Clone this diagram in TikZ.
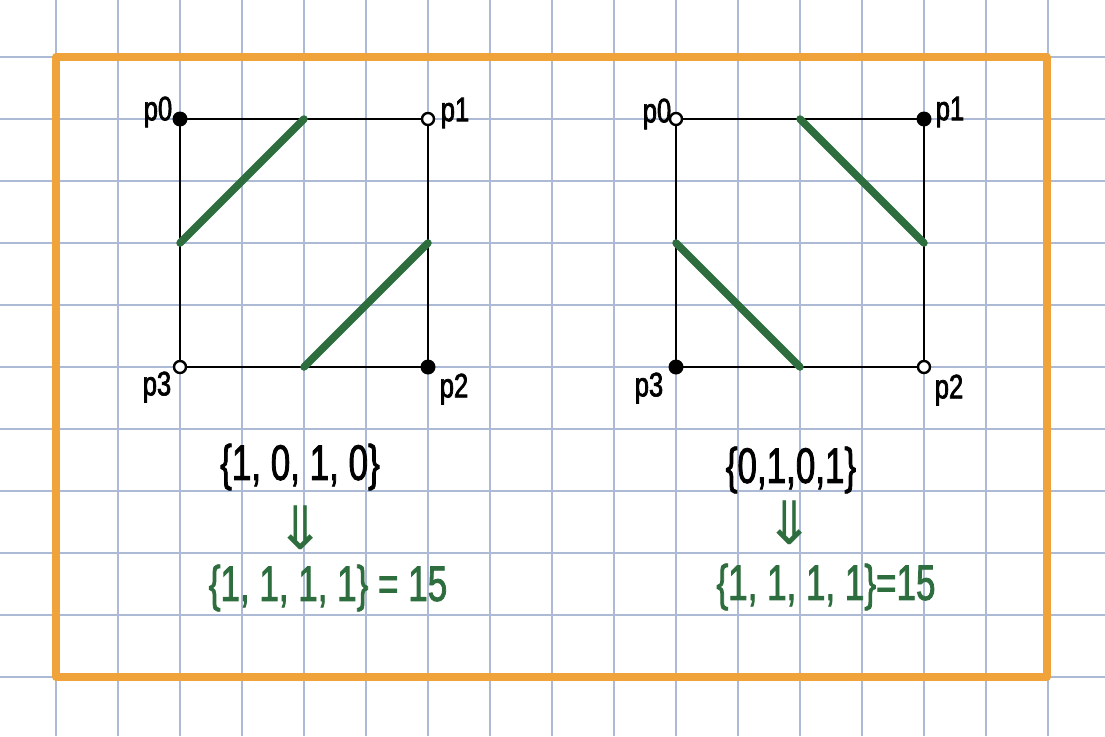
\documentclass[tikz,border=0pt]{standalone}
\usepackage{fontspec}
\usepackage{amsmath}
\usetikzlibrary{calc}
\newfontfamily\hand[FakeStretch=0.7,FakeBold=1.6]{Liberation Sans}
\newfontfamily\handlab[FakeStretch=0.75,FakeBold=2]{Liberation Sans}
\newfontfamily\symf{DejaVu Sans}
\definecolor{gridblu}{RGB}{172,186,214}
\definecolor{frameor}{RGB}{239,163,58}
\definecolor{cutgrn}{RGB}{46,110,62}
\tikzset{
  gridln/.style={line width=1.5pt,gridblu},
  frameln/.style={line width=8pt,frameor,line join=round},
  sqedge/.style={line width=2.8pt,black},
  cut/.style={line width=7.5pt,cutgrn,line cap=round},
  fdot/.style={circle,fill=black,inner sep=0pt,minimum size=15pt},
  odot/.style={circle,draw=black,line width=2.4pt,fill=white,inner sep=0pt,minimum size=12pt},
  plab/.style={font=\handlab\fontsize{34}{38}\selectfont,inner sep=0pt},
  bits/.style={font=\hand\fontsize{50}{54}\selectfont,inner sep=0pt},
  gbits/.style={bits,cutgrn},
  garrow/.style={font=\symf\fontsize{60}{64}\selectfont,cutgrn,inner sep=0pt},
}
\begin{document}
\begin{tikzpicture}[x=1pt,y=-1pt]
\useasboundingbox (0,0) rectangle (1105,736);
\fill[white] (0,0) rectangle (1105,736);
% ---- the squared paper
\foreach \gx in {56,118,...,1048}
  \draw[gridln] (\gx,0) -- (\gx,736);
\foreach \gy in {57,119,...,677}
  \draw[gridln] (0,\gy) -- (1105,\gy);
\draw[frameln] (56,57) rectangle (1047,677);
% ---- left square: p0 and p2 inside
\coordinate (L0) at (180,119);
\coordinate (L1) at (428,119);
\coordinate (L2) at (428,367);
\coordinate (L3) at (180,367);
\draw[sqedge] (L0) -- (L1) -- (L2) -- (L3) -- cycle;
\draw[cut] ($(L0)!0.5!(L3)$) -- ($(L0)!0.5!(L1)$);
\draw[cut] ($(L3)!0.5!(L2)$) -- ($(L1)!0.5!(L2)$);
\node[fdot] (dL0) at (L0) {};
\node[odot] (dL1) at (L1) {};
\node[fdot] (dL2) at (L2) {};
\node[odot] (dL3) at (L3) {};
\node[plab] (tL0) at (158,112) {p0};
\node[plab] (tL1) at (455,113) {p1};
\node[plab] (tL2) at (454,389) {p2};
\node[plab] (tL3) at (157,387) {p3};
\node[bits] (inL) at (300,467) {\{1, 0, 1, 0\}};
\node[garrow] (arL) at (301,528) {⇓};
\node[gbits] (outL) at (328,588) {\{1, 1, 1, 1\} = 15};
% ---- right square: p1 and p3 inside
\coordinate (R0) at (676,119);
\coordinate (R1) at (924,119);
\coordinate (R2) at (924,367);
\coordinate (R3) at (676,367);
\draw[sqedge] (R0) -- (R1) -- (R2) -- (R3) -- cycle;
\draw[cut] ($(R0)!0.5!(R1)$) -- ($(R1)!0.5!(R2)$);
\draw[cut] ($(R0)!0.5!(R3)$) -- ($(R3)!0.5!(R2)$);
\node[odot] (dR0) at (R0) {};
\node[fdot] (dR1) at (R1) {};
\node[odot] (dR2) at (R2) {};
\node[fdot] (dR3) at (R3) {};
\node[plab] (tR0) at (657,114) {p0};
\node[plab] (tR1) at (950,112) {p1};
\node[plab] (tR2) at (949,390) {p2};
\node[plab] (tR3) at (649,388) {p3};
\node[bits] (inR) at (791,470) {\{0,1,0,1\}};
\node[garrow] (arR) at (790,523) {⇓};
\node[gbits] (outR) at (826,587) {\{1, 1, 1, 1\}=15};
\end{tikzpicture}
\end{document}
